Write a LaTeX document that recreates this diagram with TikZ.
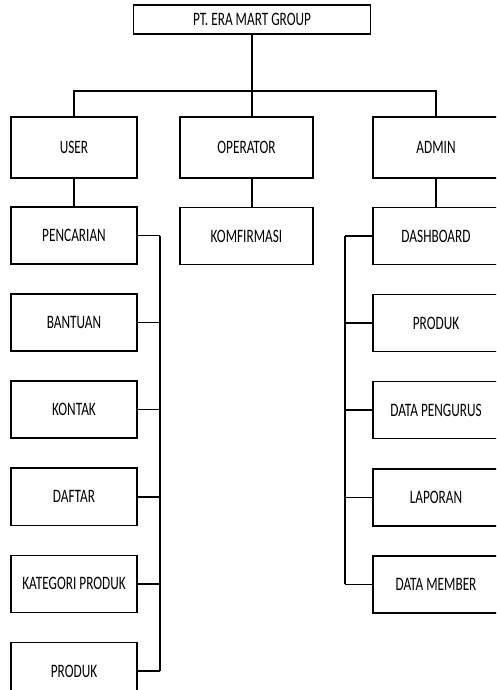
\documentclass[tikz,border=0pt]{standalone}
\usepackage{fontspec}
\setmainfont[FakeStretch=0.7]{Carlito}
\usetikzlibrary{positioning}

\tikzset{
	unit/.style={draw, line width=1.1pt, minimum width=3.15cm, minimum height=1.425cm,
		inner sep=2pt, font=\fontsize{13.5}{16}\selectfont},
	link/.style={line width=1.1pt},
}

\begin{document}
\begin{tikzpicture}[x=0.025cm, y=-0.025cm]
	\newcommand{\rowGap}{0.7125cm}
	\useasboundingbox (0,0) rectangle (496,690);
	\clip (0,0) rectangle (496,690);

	\coordinate (bus) at (252,91);
	\coordinate (rail_left) at (160,234);
	\coordinate (rail_right) at (345,234);

	% head
	\node[unit, minimum width=5.925cm, minimum height=0.725cm] (group) at (252,19.5) {PT. ERA MART GROUP};

	% level one
	\node[unit, minimum height=1.525cm] (user) at (74,147.5) {USER};
	\node[unit, minimum width=3.325cm, minimum height=1.525cm] (operator) at (246.5,147.5) {OPERATOR};
	\node[unit, minimum height=1.525cm] (admin) at (436,147.5) {ADMIN};

	% user column
	\node[unit, below=0.6875cm of user] (pencarian) {PENCARIAN};
	\node[unit, below=\rowGap of pencarian] (bantuan) {BANTUAN};
	\node[unit, below=\rowGap of bantuan] (kontak) {KONTAK};
	\node[unit, below=\rowGap of kontak] (daftar) {DAFTAR};
	\node[unit, below=\rowGap of daftar] (kategori) {KATEGORI PRODUK};
	\node[unit, below=\rowGap of kategori] (produk_user) {PRODUK};

	% operator column
	\node[unit, minimum width=3.325cm, below=0.7cm of operator] (komfirmasi) {KOMFIRMASI};

	% admin column
	\node[unit, below=0.7cm of admin] (dashboard) {DASHBOARD};
	\node[unit, below=\rowGap of dashboard] (produk_admin) {PRODUK};
	\node[unit, below=\rowGap of produk_admin] (pengurus) {DATA PENGURUS};
	\node[unit, below=\rowGap of pengurus] (laporan) {LAPORAN};
	\node[unit, below=\rowGap of laporan] (member) {DATA MEMBER};

	% tree lines
	\draw[link] (group.south) -- (group.south |- bus);
	\draw[link] (user.north) -- (user.north |- bus) -- (admin.north |- bus) -- (admin.north);
	\draw[link] (group.south |- bus) -- (group.south |- operator.north);
	\draw[link] (group.south |- operator.south) -- (group.south |- komfirmasi.north);
	\draw[link] (user.south) -- (pencarian.north);
	\draw[link] (admin.south) -- (dashboard.north);

	% side rails
	\foreach \n in {pencarian,bantuan,kontak,daftar,kategori,produk_user}
		\draw[link] (\n.east) -- (\n.east -| rail_left);
	\draw[link] (pencarian.east -| rail_left) -- (produk_user.east -| rail_left);
	\foreach \n in {dashboard,produk_admin,pengurus,laporan,member}
		\draw[link] (\n.west) -- (\n.west -| rail_right);
	\draw[link] (dashboard.west -| rail_right) -- (member.west -| rail_right);
\end{tikzpicture}
\end{document}
